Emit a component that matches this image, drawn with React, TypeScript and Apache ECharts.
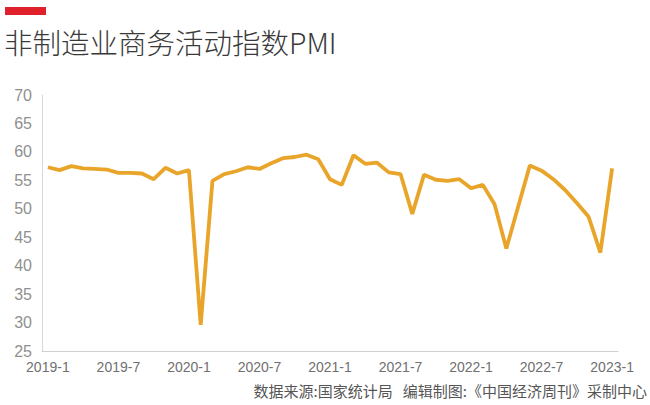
import React, { useEffect, useRef } from "react";
import * as echarts from "echarts";

const months: string[] = [];
for (let y = 2019; y <= 2023; y++) {
  for (let m = 1; m <= 12; m++) {
    if (y === 2023 && m > 1) break;
    months.push(`${y}-${m}`);
  }
}

const pmiValues = [
  57.3, 56.8, 57.5, 57.1, 57.0, 56.9, 56.3, 56.3, 56.2, 55.2, 57.2, 56.2,
  56.8, 29.6, 54.9, 56.1, 56.6, 57.3, 57.0, 58.0, 58.9, 59.1, 59.5, 58.7,
  55.2, 54.2, 59.4, 57.9, 58.1, 56.4, 56.1, 49.1, 56.0, 55.1, 54.9, 55.2,
  53.6, 54.2, 50.8, 43.0, 50.3, 57.6, 56.7, 55.2, 53.3, 51.0, 48.6, 42.3,
  57.1,
];

const titleText = "非制造业商务活动指数PMI";
const sourceText = "数据来源:国家统计局   编辑制图:《中国经济周刊》采制中心";

export default function App() {
  const ref = useRef<HTMLDivElement>(null);
  useEffect(() => {
    if (!ref.current) return;
    const chart = echarts.init(ref.current, undefined, { renderer: "svg" });
    chart.setOption({
      animation: false,
      backgroundColor: "#ffffff",
      grid: { left: 42, right: 32, top: 95, bottom: 54 },
      graphic: [
        {
          type: "rect",
          left: 5,
          top: 7,
          shape: { width: 41, height: 8 },
          style: { fill: "#e0202a" },
        },
        {
          type: "text",
          left: 4,
          top: 27,
          style: {
            text: titleText,
            fill: "#3a3a3a",
            font: "300 28.5px 'Noto Sans CJK SC', sans-serif",
          },
        },
        {
          type: "text",
          right: 3,
          top: 383,
          style: {
            text: sourceText,
            fill: "#555555",
            font: "15px 'Noto Sans CJK SC', sans-serif",
          },
        },
      ],
      xAxis: {
        type: "category",
        data: months,
        boundaryGap: true,
        axisLine: { show: true, lineStyle: { color: "#d0d0d0", width: 1 } },
        axisTick: { show: false },
        axisLabel: {
          interval: 5,
          color: "#707070",
          fontSize: 14,
          fontFamily: "'Liberation Sans', sans-serif",
          margin: 9,
        },
        splitLine: { show: false },
      },
      yAxis: {
        type: "value",
        min: 25,
        max: 70,
        interval: 5,
        axisLine: { show: true, lineStyle: { color: "#d8d8d8", width: 1 } },
        axisTick: { show: false },
        axisLabel: {
          color: "#909090",
          fontSize: 16,
          fontFamily: "'Liberation Sans', sans-serif",
          margin: 10,
        },
        splitLine: { show: false },
      },
      series: [
        {
          type: "line",
          data: pmiValues,
          symbol: "none",
          lineStyle: { color: "#e9a52a", width: 3.8 },
          itemStyle: { color: "#e9a52a" },
        },
      ],
    });
    return () => chart.dispose();
  }, []);
  return (
    <div
      ref={ref}
      style={{ position: "fixed", left: 0, top: 0, width: 650, height: 405 }}
    />
  );
}
